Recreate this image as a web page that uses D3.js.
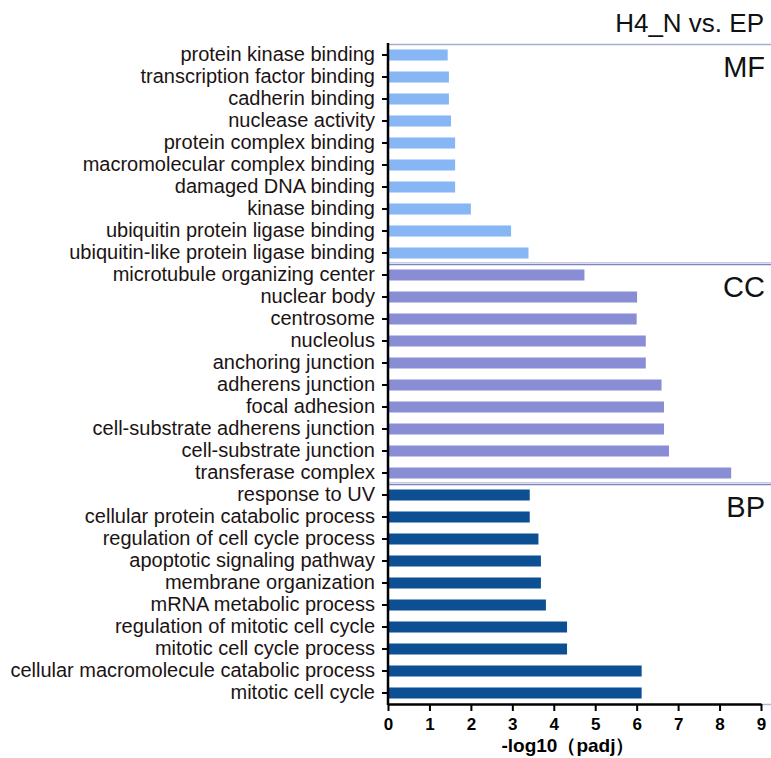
<!DOCTYPE html>
<html>
<head>
<meta charset="utf-8">
<script src="https://cdn.jsdelivr.net/npm/d3@7"></script>
<style>
  body { margin: 0; background: #fff; }
  svg text { font-family: "Liberation Sans", Arial, sans-serif; }
</style>
</head>
<body>
<div class="chart"></div>
<script>
// GO enrichment, H4_N vs. EP
var mfTerms = ["protein kinase binding", "transcription factor binding", "cadherin binding", "nuclease activity",
  "protein complex binding", "macromolecular complex binding", "damaged DNA binding", "kinase binding",
  "ubiquitin protein ligase binding", "ubiquitin-like protein ligase binding"];
var mfValues = [1.44, 1.47, 1.47, 1.52, 1.62, 1.62, 1.62, 2.0, 2.97, 3.39];

var ccTerms = ["microtubule organizing center", "nuclear body", "centrosome", "nucleolus", "anchoring junction",
  "adherens junction", "focal adhesion", "cell-substrate adherens junction", "cell-substrate junction",
  "transferase complex"];
var ccValues = [4.74, 6.01, 6.0, 6.22, 6.22, 6.6, 6.66, 6.66, 6.78, 8.28];

var bpTerms = ["response to UV", "cellular protein catabolic process", "regulation of cell cycle process",
  "apoptotic signaling pathway", "membrane organization", "mRNA metabolic process",
  "regulation of mitotic cell cycle", "mitotic cell cycle process", "cellular macromolecule catabolic process",
  "mitotic cell cycle"];
var bpValues = [3.42, 3.42, 3.63, 3.69, 3.69, 3.81, 4.32, 4.32, 6.12, 6.12];

var groupNames = ["MF", "CC", "BP"];
var groupColors = ["#86b6f4", "#898dd3", "#0c4f93"];
var xTicks = [0, 1, 2, 3, 4, 5, 6, 7, 8, 9];

var width = 771;
var height = 758;
var plotLeft = 388, plotRight = 761, plotTop = 44, plotBottom = 704;

var rows = [];
[mfTerms, ccTerms, bpTerms].forEach(function (terms, g) {
  var vals = [mfValues, ccValues, bpValues][g];
  terms.forEach(function (t, i) {
    rows.push({ term: t, value: vals[i], group: g });
  });
});

var svg = d3.select(".chart")
  .append("svg")
  .attr("width", width)
  .attr("height", height);

var x = d3.scaleLinear()
  .domain([0, 9])
  .range([plotLeft, plotRight]);

var y = d3.scaleBand()
  .domain(rows.map(function (d) { return d.term; }))
  .range([plotTop, plotBottom])
  .paddingInner(0.5)
  .paddingOuter(0.25);

var step = y.step();

// group separators
svg.append("line")
  .attr("x1", plotLeft).attr("x2", width)
  .attr("y1", plotTop + 0.5).attr("y2", plotTop + 0.5)
  .attr("stroke", "#a3abd6").attr("stroke-width", 1.5);

[10, 20].forEach(function (k) {
  var yy = y(rows[k].term) - (step - y.bandwidth()) / 2;
  svg.append("line")
    .attr("x1", plotLeft).attr("x2", width)
    .attr("y1", yy - 1.5).attr("y2", yy - 1.5)
    .attr("stroke", "#c5cae6").attr("stroke-width", 1);
  svg.append("line")
    .attr("x1", plotLeft).attr("x2", width)
    .attr("y1", yy + 0.5).attr("y2", yy + 0.5)
    .attr("stroke", "#7d84c4").attr("stroke-width", 1.5);
});

// bars
svg.append("g")
  .selectAll("rect")
  .data(rows)
  .enter()
  .append("rect")
  .attr("x", x(0) + 1)
  .attr("y", function (d) { return y(d.term); })
  .attr("width", function (d) { return x(d.value) - x(0) - 1; })
  .attr("height", y.bandwidth())
  .attr("fill", function (d) { return groupColors[d.group]; });

// y axis
var yAxis = svg.append("g")
  .attr("transform", "translate(" + plotLeft + ",0)")
  .call(d3.axisLeft(y).tickSize(6).tickPadding(7));
yAxis.select(".domain").remove();
yAxis.selectAll(".tick line").attr("stroke", "#000").attr("stroke-width", 2);
yAxis.selectAll(".tick text")
  .attr("fill", "#1c1414")
  .style("font-size", "20px");

svg.append("line")
  .attr("x1", plotLeft).attr("x2", plotLeft)
  .attr("y1", plotTop - 1).attr("y2", plotBottom + 1)
  .attr("stroke", "#000").attr("stroke-width", 2.5);

// x axis
svg.append("line")
  .attr("x1", plotRight).attr("x2", width)
  .attr("y1", plotBottom + 0.5).attr("y2", plotBottom + 0.5)
  .attr("stroke", "#a9b9dc").attr("stroke-width", 1.5);

var xAxis = svg.append("g")
  .attr("transform", "translate(0," + plotBottom + ")")
  .call(d3.axisBottom(x).tickValues(xTicks).tickSize(7).tickPadding(7).tickSizeOuter(0));
xAxis.select(".domain").attr("stroke", "#000").attr("stroke-width", 2.5);
xAxis.selectAll(".tick line").attr("stroke", "#000").attr("stroke-width", 2);
xAxis.selectAll(".tick text")
  .attr("fill", "#000")
  .style("font-size", "17px")
  .style("font-weight", "bold");

svg.append("text")
  .attr("x", 568)
  .attr("y", 752)
  .attr("text-anchor", "middle")
  .style("font-size", "19px")
  .style("font-weight", "bold")
  .text("-log10（padj）");

// title and group labels
svg.append("text")
  .attr("x", 764)
  .attr("y", 32)
  .attr("text-anchor", "end")
  .style("font-size", "26px")
  .attr("fill", "#111")
  .text("H4_N vs. EP");

groupNames.forEach(function (name, g) {
  var first = rows[g * 10].term;
  svg.append("text")
    .attr("x", 765)
    .attr("y", y(first) + 27)
    .attr("text-anchor", "end")
    .style("font-size", "29px")
    .attr("fill", "#111")
    .text(name);
});
</script>
</body>
</html>
